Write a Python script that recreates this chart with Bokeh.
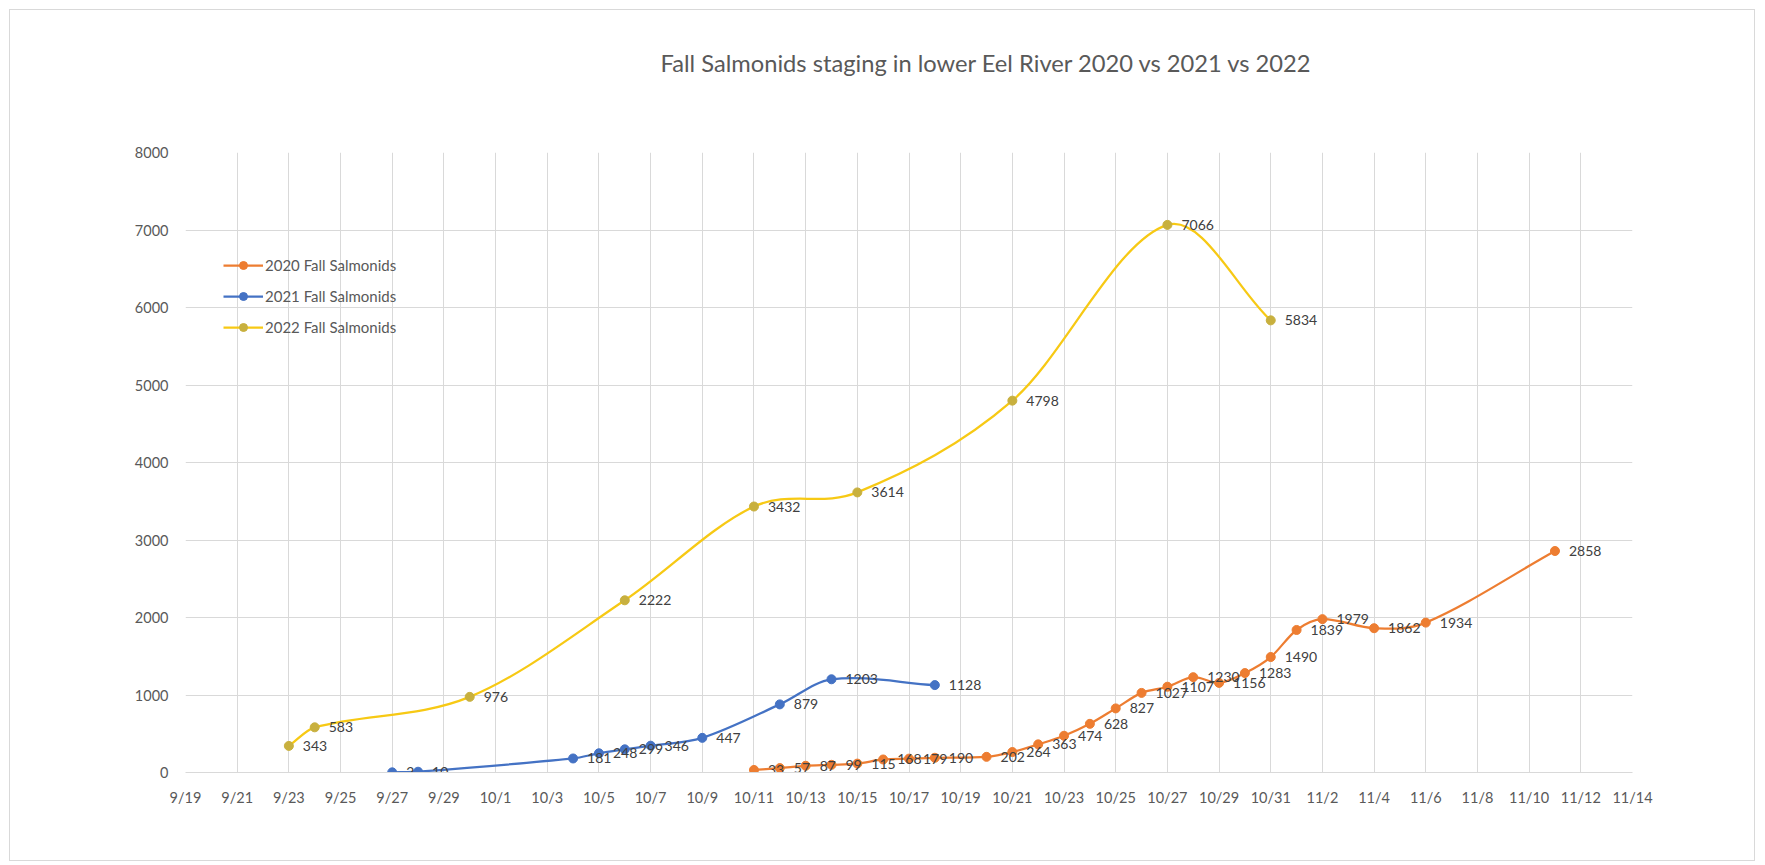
import numpy as np
import pandas as pd
from bokeh.plotting import figure
from bokeh.models import FixedTicker, Legend, LegendItem, Range1d, Title
from bokeh.core.properties import value
from bokeh.embed import file_html
from bokeh.resources import INLINE

# Season calendar shared by all three years
SEASON_YEAR = 2022

# 2020 counts
dates_2020 = ["10/11", "10/12", "10/13", "10/14", "10/15", "10/16", "10/17", "10/18",
              "10/20", "10/21", "10/22", "10/23", "10/24", "10/25", "10/26", "10/27",
              "10/28", "10/29", "10/30", "10/31", "11/1", "11/2", "11/4", "11/6", "11/11"]
counts_2020 = [33, 57, 87, 99, 115, 168, 179, 190,
               202, 264, 363, 474, 628, 827, 1027, 1107,
               1230, 1156, 1283, 1490, 1839, 1979, 1862, 1934, 2858]

# 2021 counts
dates_2021 = ["9/27", "9/28", "10/4", "10/5", "10/6", "10/7", "10/9", "10/12", "10/14", "10/18"]
counts_2021 = [2, 10, 181, 248, 299, 346, 447, 879, 1203, 1128]

# 2022 counts
dates_2022 = ["9/23", "9/24", "9/30", "10/6", "10/11", "10/15", "10/21", "10/27", "10/31"]
counts_2022 = [343, 583, 976, 2222, 3432, 3614, 4798, 7066, 5834]

# Axis ticks
x_tick_labels = ["9/19", "9/21", "9/23", "9/25", "9/27", "9/29", "10/1", "10/3", "10/5",
                 "10/7", "10/9", "10/11", "10/13", "10/15", "10/17", "10/19", "10/21",
                 "10/23", "10/25", "10/27", "10/29", "10/31", "11/2", "11/4", "11/6",
                 "11/8", "11/10", "11/12", "11/14"]
y_ticks = [0, 1000, 2000, 3000, 4000, 5000, 6000, 7000, 8000]

series_names = ["2020 Fall Salmonids", "2021 Fall Salmonids", "2022 Fall Salmonids"]
line_colors = ["#ED7D31", "#4472C4", "#F7C914"]
marker_colors = ["#ED7D31", "#4472C4", "#C8B03E"]

TITLE = "Fall Salmonids staging in lower Eel River 2020 vs 2021 vs 2022"
FONT = "Lato"
TEXT_GREY = "#595959"
GRID_GREY = "#D9D9D9"

origin = pd.Timestamp(f"{SEASON_YEAR}/{x_tick_labels[0]}")


def day_number(md):
    """Days since the first tick of the season axis."""
    return (pd.Timestamp(f"{SEASON_YEAR}/{md}") - origin).days


def smooth_segments(xs, ys):
    """Cubic Bezier pieces through every point: Hermite curve in x with
    finite-difference slopes, so uneven date spacing does not make loops."""
    xs = np.asarray(xs, float)
    ys = np.asarray(ys, float)
    n = len(xs)
    slope = np.empty(n)
    for i in range(n):
        a = max(i - 1, 0)
        d = min(i + 1, n - 1)
        slope[i] = (ys[d] - ys[a]) / (xs[d] - xs[a])
    seg = {k: [] for k in ("x0", "y0", "x1", "y1", "cx0", "cy0", "cx1", "cy1")}
    for i in range(n - 1):
        h = xs[i + 1] - xs[i]
        seg["x0"].append(xs[i]); seg["y0"].append(ys[i])
        seg["x1"].append(xs[i + 1]); seg["y1"].append(ys[i + 1])
        seg["cx0"].append(xs[i] + h / 3.0)
        seg["cy0"].append(ys[i] + slope[i] * h / 3.0)
        seg["cx1"].append(xs[i + 1] - h / 3.0)
        seg["cy1"].append(ys[i + 1] - slope[i + 1] * h / 3.0)
    return seg


x_ticks = [day_number(t) for t in x_tick_labels]

p = figure(width=1746, height=852, output_backend="svg", toolbar_location=None,
           x_range=Range1d(x_ticks[0], x_ticks[-1]), y_range=Range1d(y_ticks[0], y_ticks[-1]),
           min_border_left=175, min_border_right=124, min_border_top=142, min_border_bottom=90)
p.margin = (9, 0, 0, 9)
p.styles = {"border": "1px solid #D9D9D9"}
p.outline_line_color = None
p.background_fill_color = "white"
p.border_fill_color = "white"

# title, kept clear of the plot area by a blank band underneath it
p.title.text = TITLE
p.title.align = "left"
p.title.offset = 475
p.title.standoff = 10
p.title.text_font = FONT
p.title.text_font_size = "23.7px"
p.title.text_font_style = "normal"
p.title.text_color = TEXT_GREY
p.add_layout(Title(text=" ", text_font_size="10px", standoff=58), "above")

# axes
p.xaxis.ticker = FixedTicker(ticks=x_ticks)
p.xaxis.major_label_overrides = {t: lab for t, lab in zip(x_ticks, x_tick_labels)}
p.yaxis.ticker = FixedTicker(ticks=y_ticks)
for ax in (p.xaxis[0], p.yaxis[0]):
    ax.major_tick_line_color = None
    ax.minor_tick_line_color = None
    ax.major_label_text_font = FONT
    ax.major_label_text_color = TEXT_GREY
p.xaxis.major_label_text_font_size = "14.5px"
p.yaxis.major_label_text_font_size = "14.5px"
p.xaxis.axis_line_color = GRID_GREY
p.yaxis.axis_line_color = None
p.xaxis.major_label_standoff = 10
p.yaxis.major_label_standoff = 11

p.xgrid.ticker = FixedTicker(ticks=x_ticks)
p.ygrid.ticker = FixedTicker(ticks=y_ticks)
p.xgrid.grid_line_color = GRID_GREY
p.ygrid.grid_line_color = GRID_GREY

# series
all_series = [(dates_2020, counts_2020), (dates_2021, counts_2021), (dates_2022, counts_2022)]
legend_items = []
label_sets = []
for (dates, counts), name, lc, mc in zip(all_series, series_names, line_colors, marker_colors):
    xs = [day_number(d) for d in dates]
    p.bezier(source=smooth_segments(xs, counts), x0="x0", y0="y0", x1="x1", y1="y1",
             cx0="cx0", cy0="cy0", cx1="cx1", cy1="cy1", line_color=lc, line_width=2.25)
    # a one-point line: draws nothing on the chart, but gives the legend its line key
    key_line = p.line(x=xs[:1], y=counts[:1], line_color=lc, line_width=2.25)
    dots = p.scatter(x=xs, y=counts, size=9, fill_color=mc, line_color=mc, line_width=1)
    legend_items.append(LegendItem(label=name, renderers=[key_line, dots]))
    label_sets.append((xs, counts))

# value labels sit to the right of each point
for xs, counts in label_sets:
    p.text(x=xs, y=counts, text=[str(c) for c in counts], x_offset=14,
           text_align="left", text_baseline="middle", text_color="#404040",
           text_font=value(FONT), text_font_size="14px")

legend = Legend(items=legend_items, location=(38, 435), orientation="vertical",
                background_fill_alpha=0, border_line_color=None, padding=0, margin=0,
                spacing=11, glyph_width=40, glyph_height=20, label_height=20,
                label_standoff=2, label_text_font=FONT, label_text_font_size="15px",
                label_text_color=TEXT_GREY)
p.add_layout(legend, "center")

open("out.html", "w").write(file_html(p, INLINE))
